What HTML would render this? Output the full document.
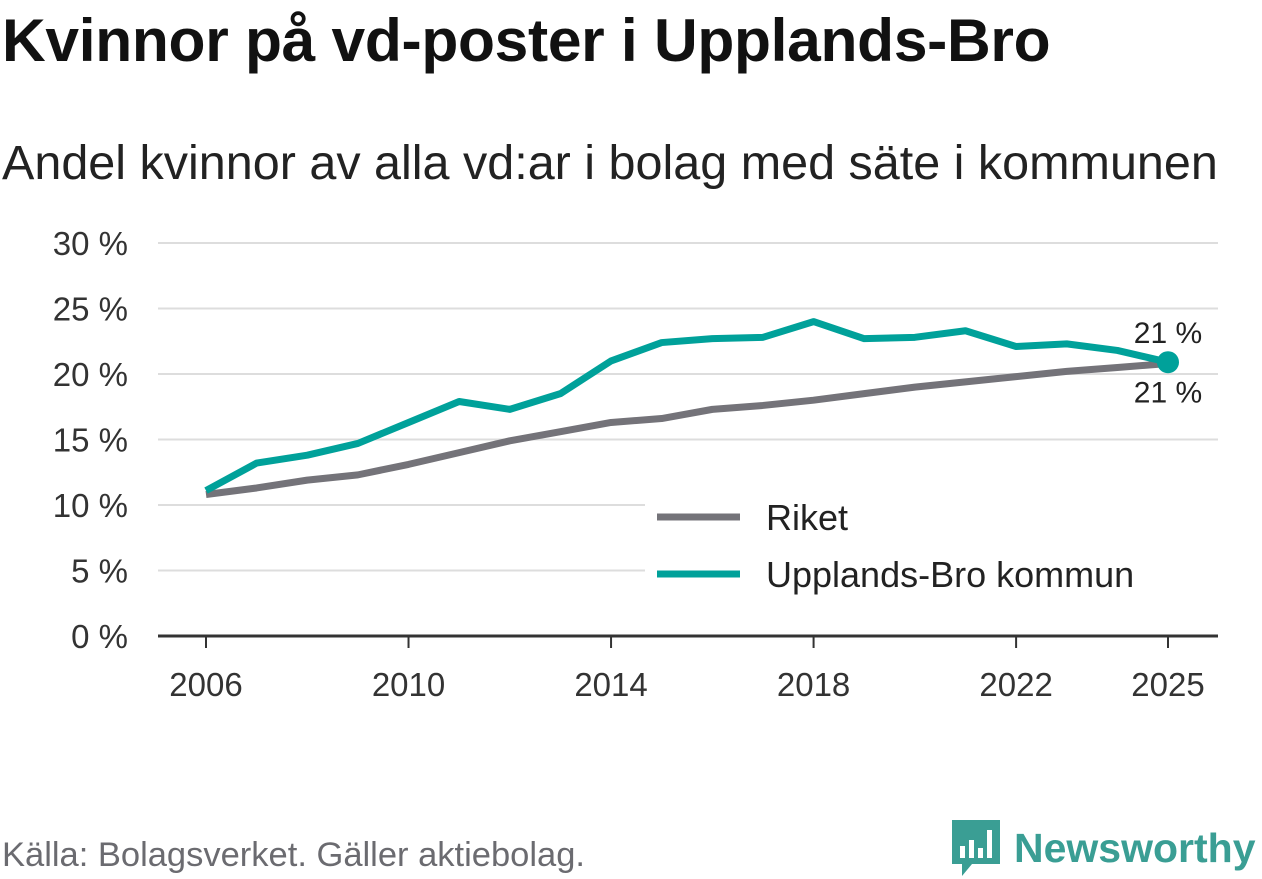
<!DOCTYPE html>
<html><head><meta charset="utf-8">
<style>
body{margin:0;width:1262px;height:879px;background:#fff;font-family:"Liberation Sans","DejaVu Sans",sans-serif;overflow:hidden;position:relative}
#title{position:absolute;left:2px;top:5px;font-size:60.5px;font-weight:bold;color:#111;letter-spacing:-0.3px;white-space:nowrap}
#subtitle{position:absolute;left:2px;top:135px;font-size:48.5px;color:#222;white-space:nowrap}
#source{position:absolute;left:2px;top:836px;font-size:34.5px;color:#6b6b70;white-space:nowrap}
#logo{position:absolute;left:950px;top:818px;display:flex;align-items:center}
#logo span{font-size:41px;font-weight:bold;color:#3a9e94;margin-left:12px}
svg{position:absolute;left:0;top:0}
</style></head><body>
<div id="title">Kvinnor på vd-poster i Upplands-Bro</div>
<div id="subtitle">Andel kvinnor av alla vd:ar i bolag med säte i kommunen</div>
<div id="source">Källa: Bolagsverket. Gäller aktiebolag.</div>
<div id="logo">
<svg style="position:static" width="52" height="60" viewBox="0 0 52 60"><path d="M2 2h48v44H22l-10 12v-12H2z" fill="#3a9e94"/><rect x="10" y="28" width="5" height="12" fill="#fff"/><rect x="19" y="22" width="5" height="18" fill="#fff"/><rect x="28" y="30" width="5" height="10" fill="#fff"/><rect x="37" y="12" width="5" height="28" fill="#fff"/></svg>
<span>Newsworthy</span></div>
<svg id="chart" width="1262" height="879"></svg>
<script>
const years=[2006,2007,2008,2009,2010,2011,2012,2013,2014,2015,2016,2017,2018,2019,2020,2021,2022,2023,2024,2025];
const riket=[10.8,11.3,11.9,12.3,13.1,14.0,14.9,15.6,16.3,16.6,17.3,17.6,18.0,18.5,19.0,19.4,19.8,20.2,20.5,20.8];
const upplandsBro=[11.1,13.2,13.8,14.7,16.3,17.9,17.3,18.5,21.0,22.4,22.7,22.8,24.0,22.7,22.8,23.3,22.1,22.3,21.8,20.9];
const yTicks=[0,5,10,15,20,25,30];
const xTicks=[2006,2010,2014,2018,2022,2025];
const NS="http://www.w3.org/2000/svg";
const svg=document.getElementById('chart');
const x=v=>206+(v-2006)*(1168-206)/19;
const y=v=>636-v*(636-243)/30;
function mk(t,a){const e=document.createElementNS(NS,t);for(const k in a)e.setAttribute(k,a[k]);svg.appendChild(e);return e;}
yTicks.forEach(t=>{
 if(t>0){const l=mk('line',{x1:158,x2:1218,y1:y(t),y2:y(t),stroke:'#ddd','stroke-width':2});
 
 }
 const tx=mk('text',{x:128,y:y(t)+12,'text-anchor':'end','font-size':33,fill:'#333'});tx.textContent=t+' %';
 
 
});
const ax=mk('line',{x1:158,x2:1218,y1:636,y2:636,stroke:'#333','stroke-width':3});


xTicks.forEach(t=>{
 const l=mk('line',{x1:x(t),x2:x(t),y1:636,y2:648,stroke:'#333','stroke-width':2});
 
 
 const tx=mk('text',{x:x(t),y:696,'text-anchor':'middle','font-size':33,fill:'#333'});tx.textContent=t;
 
 
});
function line(vals,col,name){
 const p=mk('polyline',{points:vals.map((v,i)=>x(years[i])+','+y(v)).join(' '),fill:'none',stroke:col,'stroke-width':7,'stroke-linejoin':'round'});
 
 
}
const lb=mk('rect',{x:645,y:495,width:575,height:105,fill:'#fff'});


line(riket,'#747379','riket-line');
line(upplandsBro,'#00a19a','upplands-bro-line');
const n=years.length-1;
const dot=mk('circle',{cx:x(years[n]),cy:y(upplandsBro[n]),r:11,fill:'#00a19a'});


const l1=mk('text',{x:1168,y:y(upplandsBro[n])-19,'text-anchor':'middle','font-size':30,fill:'#222'});l1.textContent=Math.round(upplandsBro[n])+' %';


const l2=mk('text',{x:1168,y:y(riket[n])+39,'text-anchor':'middle','font-size':30,fill:'#222'});l2.textContent=Math.round(riket[n])+' %';


[['Riket','#747379',517],['Upplands-Bro kommun','#00a19a',574]].forEach(([t,c,yy])=>{
 const l=mk('line',{x1:657,x2:740,y1:yy,y2:yy,stroke:c,'stroke-width':7});
 
 
 const tx=mk('text',{x:766,y:yy+13,'font-size':36,fill:'#222'});tx.textContent=t;
 
 
});
</script>
</body></html>
